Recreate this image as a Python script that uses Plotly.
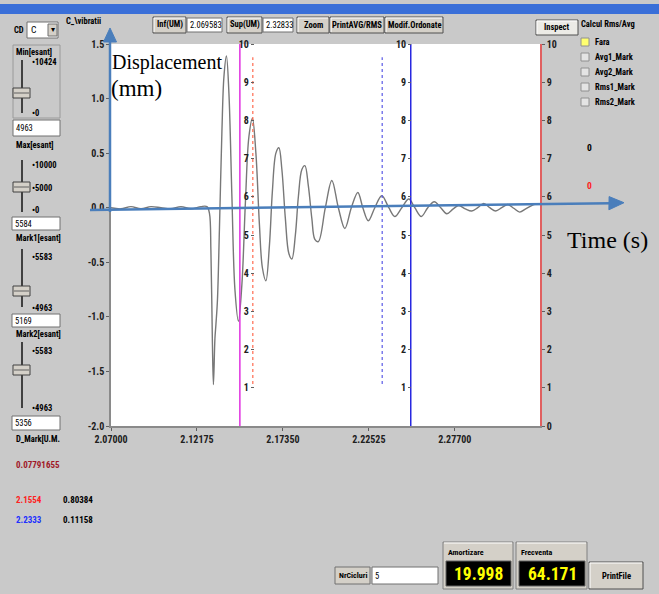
import plotly.graph_objects as go

# ---------------- data ----------------
time_s = [2.07000, 2.07602, 2.08203, 2.08805, 2.09407, 2.10009, 2.10610, 2.11212, 2.11814, 2.12416,
          2.12777, 2.12927, 2.13017, 2.13108, 2.13168, 2.13258, 2.13318, 2.13409, 2.13529, 2.13679,
          2.13800, 2.13950, 2.14101, 2.14281, 2.14462, 2.14672, 2.14883, 2.15094, 2.15304, 2.15515,
          2.15725, 2.15936, 2.16116, 2.16327, 2.16538, 2.16718, 2.16929, 2.17109, 2.17290, 2.17500,
          2.17711, 2.17891, 2.18102, 2.18283, 2.18493, 2.18674, 2.18884, 2.19095, 2.19275, 2.19486,
          2.19907, 2.20298, 2.20690, 2.21081, 2.21472, 2.21863, 2.22164, 2.22495, 2.22886, 2.23307,
          2.23728, 2.24089, 2.24511, 2.24932, 2.25293, 2.25684, 2.26075, 2.26466, 2.26857, 2.27218,
          2.27610, 2.27941, 2.28332, 2.28723, 2.29084, 2.29445, 2.29806, 2.30167, 2.30528, 2.30889,
          2.31250, 2.31611, 2.31972, 2.32333, 2.32514]
displacement_mm = [0.00, -0.01, 0.01, -0.01, 0.01, 0.00, -0.01, 0.01, -0.01, 0.01,
                   0.01, -0.05, -0.40, -1.25, -1.62, -1.20, -1.07, -0.85, -0.20, 0.70,
                   1.20, 1.39, 1.05, 0.10, -0.75, -1.04, -0.70, 0.05, 0.65, 0.82,
                   0.50, -0.15, -0.55, -0.67, -0.35, 0.15, 0.50, 0.55, 0.35, -0.10,
                   -0.42, -0.47, -0.25, 0.10, 0.35, 0.385, 0.20, -0.10, -0.29, -0.31,
                   0.00, 0.25, 0.00, -0.19, 0.00, 0.14, 0.00, -0.12, 0.00, 0.11,
                   0.00, -0.08, 0.00, 0.08, 0.00, -0.08, 0.00, 0.055, 0.00, -0.055,
                   -0.01, 0.02, -0.01, -0.03, 0.00, 0.04, 0.00, -0.03, 0.00, 0.03,
                   -0.005, -0.04, -0.01, 0.02, 0.03]

y_tickvals = [1.5, 1.0, 0.5, 0.0, -0.5, -1.0, -1.5, -2.0]
y_ticktext = ["1.5", "1.0", "0.5", "0.0", "-0.5", "-1.0", "-1.5", "-2.0"]
x_tickvals = [2.07, 2.12175, 2.1735, 2.22525, 2.277]
x_ticktext = ["2.07000", "2.12175", "2.17350", "2.22525", "2.27700"]
x_range = [2.07, 2.32833]
y_range = [-2.0, 1.5]
scale_range = [0, 10]
mid_ticks = [1, 2, 3, 4, 5, 6, 7, 8, 9, 10]
right_ticks = [0, 1, 2, 3, 4, 5, 6, 7, 8, 9, 10]
min_line_t = 2.1476
max_line_t = 2.2505
mark1_t = 2.1554
mark2_t = 2.2333
mark_span = [1.1, 9.65]

# ---------------- layout helpers ----------------
W, H = 659, 594
PL, PR, PT, PB = 111, 540, 44, 426
UI = "Roboto, Liberation Sans, sans-serif"
SERIF = "Liberation Serif, Times New Roman, serif"
GRAY = "#c9c9c9"
BTN = "#d4d0c8"


def cond(s, bold=True):
    inner = "<b>%s</b>" % s if bold else s
    return "<span style='font-stretch:condensed'>%s</span>" % inner


def X(px):
    return (px - PL) / (PR - PL)


def Y(py):
    return (PB - py) / (PB - PT)


shapes = []
annotations = []


def rect(x0, y0, x1, y1, fill, line="#808080", lw=1):
    shapes.append(dict(type="rect", xref="paper", yref="paper", x0=X(x0), x1=X(x1),
                       y0=Y(y1), y1=Y(y0), fillcolor=fill,
                       line=dict(color=line, width=lw), layer="above"))


def seg(x0, y0, x1, y1, color, lw=1, dash="solid"):
    shapes.append(dict(type="line", xref="paper", yref="paper", x0=X(x0), x1=X(x1),
                       y0=Y(y0), y1=Y(y1), line=dict(color=color, width=lw, dash=dash),
                       layer="above"))


def txt(x, y, s, size=8.5, color="#000000", anchor="left", bold=True, family=UI, narrow=True):
    text = cond(s, bold) if narrow else s
    annotations.append(dict(xref="paper", yref="paper", x=X(x), y=Y(y),
                            text=text, showarrow=False, borderpad=0,
                            xanchor=anchor, yanchor="middle",
                            font=dict(size=size, color=color, family=family)))


def button(x0, y0, x1, y1, label, fill=BTN, size=8.5):
    rect(x0, y0, x1, y1, fill, "#505050", 1)
    seg(x0 + 1, y0 + 1, x1 - 1, y0 + 1, "#ffffff", 1)
    seg(x0 + 1, y0 + 1, x0 + 1, y1 - 1, "#ffffff", 1)
    txt((x0 + x1) / 2, (y0 + y1) / 2, label, size, anchor="center")


def textbox(x0, y0, x1, y1, value, size=8.5):
    rect(x0, y0, x1, y1, "#ffffff", "#707070", 1)
    txt(x0 + 2, (y0 + y1) / 2, value, size, bold=False)


def slider(xt, ytop, ybot, thumb_y):
    seg(xt, ytop, xt, ybot, "#404040", 2)
    rect(xt - 9, thumb_y - 5, xt + 8, thumb_y + 5, BTN, "#404040", 1)
    seg(xt - 8, thumb_y, xt + 7, thumb_y, "#606060", 1)


# title bar
rect(0, 4, 659, 14, "#3a6fd8", "#3a6fd8", 0)

# top control row
txt(13, 30, "CD")
rect(27, 22, 58, 38, "#ffffff", "#707070")
txt(30, 30, "C", 9.5, bold=False)
rect(48, 24, 57, 36, BTN, "#707070")
txt(52.5, 30, "▾", 8, anchor="center", bold=False, narrow=False)
txt(65, 21, "C_\\vibratii")
button(153, 17, 186, 33, "Inf(UM)")
textbox(187, 18, 222, 32, "2.069583")
button(227, 17, 262, 33, "Sup(UM)")
textbox(263, 18, 293, 32, "2.32833")
button(297, 17, 329, 33, "Zoom")
button(330, 17, 384, 33, "PrintAVG/RMS")
button(385, 17, 443, 33, "Modif.Ordonate")
button(536, 20, 578, 35, "Inspect", fill="#ecebe6")
txt(580, 24, "Calcul Rms/Avg")
radio_labels = ["Fara", "Avg1_Mark", "Avg2_Mark", "Rms1_Mark", "Rms2_Mark"]
for i, lab in enumerate(radio_labels):
    yy = 42 + 15 * i
    rect(581, yy - 4, 589, yy + 4, "#ffff70" if i == 0 else "#e4e4e4", "#909090")
    txt(594, yy, lab)
txt(586, 147, "0", 9.5)
txt(586, 185, "0", 9.5, color="#ff2020")

# left panel
rect(13, 45, 60, 118, GRAY, "#9a9a9a")
txt(15, 52, "Min[esant]")
txt(31, 62, "•10424", 8.5)
txt(31, 113, "•0", 8.5)
slider(22, 60, 113, 93)
textbox(13, 120, 60, 136, "4963")

txt(15, 145, "Max[esant]")
txt(31, 165, "•10000", 8.5)
txt(31, 188, "•5000", 8.5)
txt(31, 210, "•0", 8.5)
slider(22, 160, 212, 187)
textbox(12, 217, 60, 230, "5584")

txt(15, 238, "Mark1[esant]")
txt(31, 257, "•5583", 8.5)
txt(31, 308, "•4963", 8.5)
slider(22, 249, 307, 291)
textbox(12, 314, 60, 327, "5169")

txt(15, 334, "Mark2[esant]")
txt(31, 351, "•5583", 8.5)
txt(31, 408, "•4963", 8.5)
slider(22, 342, 408, 370)
textbox(12, 416, 60, 430, "5356")
txt(15, 439, "D_Mark[U.M.")
txt(15, 465, "0.07791655", 9, color="#a01828")
txt(15, 500, "2.1554", 9, color="#ff2020")
txt(62, 500, "0.80384", 9)
txt(15, 520, "2.2333", 9, color="#2030ff")
txt(62, 520, "0.11158", 9)

# bottom panel
rect(335, 567, 370, 584, BTN, "#707070")
txt(352.5, 575.5, "NrCicluri", 8, anchor="center")
textbox(372, 567, 438, 584, "5")
for (x0, x1, head, val) in [(443, 513, "Amortizare", "19.998"), (516, 587, "Frecventa", "64.171")]:
    rect(x0, 542, x1, 589, BTN, "#808080")
    seg(x0 + 1, 543, x1 - 1, 543, "#ffffff", 1)
    txt(x0 + 4, 552, head, 8)
    rect(x0 + 3, 561, x1 - 2, 586, "#000000", "#606060")
    txt((x0 + x1) / 2 + 0.5, 574, val, 17.5, color="#ffff00", anchor="center")
button(589, 562, 643, 589, "PrintFile")

# user-drawn arrows and labels
ARROW = "#4a7ebb"
seg(110, 212, 110, 40, ARROW, 2.5)
shapes.append(dict(type="path", xref="paper", yref="paper",
                   path="M %f,%f L %f,%f L %f,%f Z" % (X(110), Y(28), X(103.5), Y(42), X(116.5), Y(42)),
                   fillcolor=ARROW, line=dict(color=ARROW, width=1), layer="above"))
seg(90, 210, 611, 203.2, ARROW, 2.5)
shapes.append(dict(type="path", xref="paper", yref="paper",
                   path="M %f,%f L %f,%f L %f,%f Z" % (X(624), Y(202.7), X(609.1), Y(196.6), X(608.9), Y(209.8)),
                   fillcolor=ARROW, line=dict(color=ARROW, width=1), layer="above"))
txt(111, 63, "Displacement", 20, bold=False, family=SERIF, narrow=False)
txt(110, 88, "(mm)", 23, bold=False, family=SERIF, narrow=False)
txt(566, 240, "Time (s)", 24, bold=False, family=SERIF, narrow=False)

# ---------------- figure ----------------
fig = go.Figure()
fig.add_trace(go.Scatter(x=time_s, y=displacement_mm, mode="lines",
                         line=dict(color="#787878", width=1.4, shape="spline", smoothing=1.0),
                         hoverinfo="skip"))
fig.add_trace(go.Scatter(x=[min_line_t, min_line_t], y=scale_range, yaxis="y4", mode="lines",
                         line=dict(color="#e030e0", width=1.5), hoverinfo="skip"))
fig.add_trace(go.Scatter(x=[max_line_t, max_line_t], y=scale_range, yaxis="y4", mode="lines",
                         line=dict(color="#2828e0", width=1.5), hoverinfo="skip"))
fig.add_trace(go.Scatter(x=[mark1_t, mark1_t], y=mark_span, yaxis="y4", mode="lines",
                         line=dict(color="#ff6a50", width=1.2, dash="dot"), hoverinfo="skip"))
fig.add_trace(go.Scatter(x=[mark2_t, mark2_t], y=mark_span, yaxis="y4", mode="lines",
                         line=dict(color="#5a5ae6", width=1.2, dash="dot"), hoverinfo="skip"))
fig.add_trace(go.Scatter(x=[None], y=[None], yaxis="y2", hoverinfo="skip"))
fig.add_trace(go.Scatter(x=[None], y=[None], yaxis="y3", hoverinfo="skip"))

tickfont = dict(family=UI, size=10, color="#202020")
common = dict(ticks="outside", ticklen=3, tickcolor="#606060", showgrid=False, zeroline=False,
              tickfont=tickfont, fixedrange=True)
fig.update_layout(
    width=W, height=H, margin=dict(l=PL, r=W - PR, t=PT, b=H - PB, pad=0),
    paper_bgcolor=GRAY, plot_bgcolor="#ffffff", showlegend=False,
    xaxis=dict(range=x_range, tickvals=x_tickvals, ticktext=[cond(t) for t in x_ticktext],
               showline=True, linecolor="#8a8a8a", linewidth=1.5, **common),
    yaxis=dict(range=y_range, tickvals=y_tickvals, ticktext=[cond(t) for t in y_ticktext],
               showline=True, linecolor="#8a8a8a", linewidth=1.5, **common),
    yaxis2=dict(range=scale_range, overlaying="y", anchor="free", position=0.333, side="left",
                tickvals=mid_ticks, ticktext=[cond(str(v)) for v in mid_ticks],
                showline=False, **common),
    yaxis3=dict(range=scale_range, overlaying="y", anchor="free", position=0.6993, side="left",
                tickvals=mid_ticks, ticktext=[cond(str(v)) for v in mid_ticks],
                showline=False, **common),
    yaxis4=dict(range=scale_range, overlaying="y", anchor="x", side="right",
                tickvals=right_ticks, ticktext=[cond(str(v)) for v in right_ticks],
                showline=True, linecolor="#e06060", linewidth=1.5, **common),
    shapes=shapes, annotations=annotations,
)

fig.write_html("out.html", config={"displayModeBar": False},
               post_script="document.body.style.margin='0px';")
